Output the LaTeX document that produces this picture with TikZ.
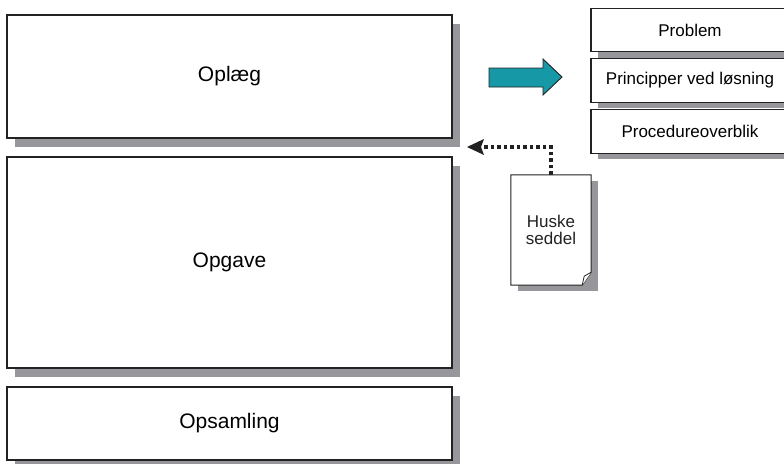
\documentclass[tikz,border=0pt]{standalone}
\usepackage{fontspec}
\setmainfont{Liberation Sans}
\usetikzlibrary{arrows.meta,shadows}
\definecolor{edge}{RGB}{34,34,34}
\definecolor{shadowgray}{RGB}{150,150,155}
\definecolor{arrowteal}{RGB}{22,152,166}
\tikzset{
  bigbox/.style={draw=edge, line width=1.3pt, fill=white, inner sep=0pt,
    minimum width=445pt, font=\fontsize{21}{24}\selectfont,
    drop shadow={shadow xshift=8pt, shadow yshift=-8.5pt, fill=shadowgray, opacity=1}},
  sidebox/.style={draw=edge, line width=1.1pt, fill=white, inner sep=0pt,
    minimum width=198pt, minimum height=43.5pt, font=\fontsize{17}{19}\selectfont,
    drop shadow={shadow xshift=7pt, shadow yshift=-6pt, fill=shadowgray, opacity=1}},
  dotline/.style={line width=3.5pt, dash pattern=on 3.5pt off 3pt, color=edge},
}
\begin{document}
\begin{tikzpicture}[x=1pt, y=-1pt]
  \useasboundingbox (0,0) rectangle (784,463);
  \clip (0,0) rectangle (784,463);

  % three stages of the session
  \node[bigbox, minimum height=123pt] (oplaeg) at (229.5,76.5) {Oplæg};
  \node[bigbox, minimum height=211pt] (opgave) at (229.5,262.5) {Opgave};
  \node[bigbox, minimum height=73pt] (opsamling) at (229.5,423.5) {Opsamling};

  % contents of the introduction
  \node[sidebox] (problem) at (690,30) {Problem};
  \node[sidebox] (principper) at (690,80.5) {Principper ved løsning};
  \node[sidebox] (procedure) at (690,131.5) {Procedureoverblik};

  % block arrow pointing to the contents
  \draw[edge, line width=0.9pt, fill=arrowteal, line join=miter]
    (489,68) -- (543,68) -- (543,59) -- (562,77) -- (543,95) -- (543,87) -- (489,87) -- cycle;

  % note with a folded corner
  \node[minimum width=80pt, minimum height=110pt, inner sep=0pt] (note) at (551,230) {};
  \fill[shadowgray] ([xshift=7pt,yshift=-6pt]note.north west) rectangle ([xshift=7pt,yshift=-6pt]note.south east);
  \draw[edge, line width=1pt, fill=white, line join=miter]
    (note.north west) -- (note.north east) -- ([yshift=13pt]note.south east)
    -- ([xshift=-9pt]note.south east) -- (note.south west) -- cycle;
  \draw[edge, line width=0.8pt, fill=white, line join=miter]
    ([yshift=13pt]note.south east) -- ([xshift=-7pt,yshift=9pt]note.south east)
    -- ([xshift=-9pt]note.south east);
  \node[align=center, font=\fontsize{17}{16.5}\selectfont, text=edge] at (note.center) {Huske\\seddel};

  % dotted reminder connector
  \coordinate (tip) at (467,147);
  \draw[dotline] (note.north) -- (note.north |- tip) -- ([xshift=15pt]tip);
  \fill[edge] (tip) -- (484,139) -- (481,147) -- (484,155) -- cycle;
\end{tikzpicture}
\end{document}
